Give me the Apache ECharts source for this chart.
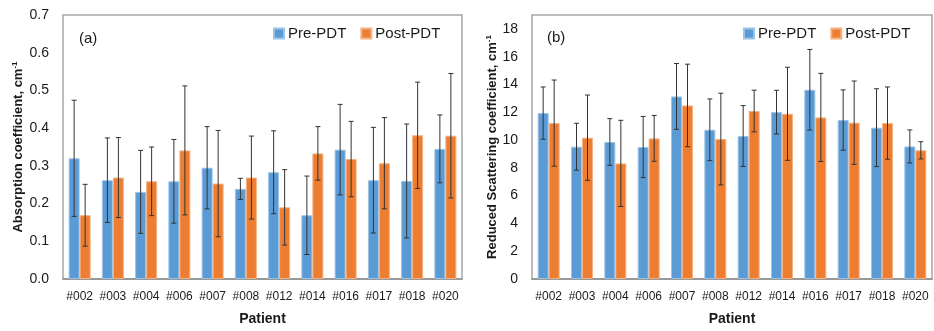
<!DOCTYPE html>
<html><head><meta charset="utf-8">
<script src="https://cdn.jsdelivr.net/npm/echarts@6/dist/echarts.min.js"></script>
<style>html,body{margin:0;padding:0;background:#fff}#c{width:934px;height:331px}</style>
</head><body><div id="c"></div>
<script>
const categories = ['#002','#003','#004','#006','#007','#008','#012','#014','#016','#017','#018','#020'];
const absPre     = [0.320, 0.262, 0.231, 0.259, 0.295, 0.239, 0.283, 0.169, 0.343, 0.262, 0.260, 0.345];
const absPreErr  = [0.154, 0.112, 0.110, 0.111, 0.109, 0.028, 0.110, 0.104, 0.120, 0.140, 0.151, 0.090];
const absPost    = [0.169, 0.269, 0.259, 0.341, 0.253, 0.269, 0.190, 0.333, 0.318, 0.307, 0.381, 0.380];
const absPostErr = [0.082, 0.106, 0.091, 0.171, 0.141, 0.110, 0.100, 0.071, 0.100, 0.121, 0.141, 0.165];
const scatPre     = [11.94, 9.52, 9.86, 9.50, 13.14, 10.74, 10.29, 12.01, 13.62, 11.44, 10.89, 9.54];
const scatPreErr  = [1.88, 1.69, 1.68, 2.20, 2.37, 2.22, 2.19, 1.57, 2.90, 2.17, 2.80, 1.19];
const scatPost    = [11.22, 10.17, 8.32, 10.12, 12.49, 10.07, 12.09, 11.89, 11.63, 11.25, 11.22, 9.26];
const scatPostErr = [3.10, 3.07, 3.10, 1.65, 2.97, 3.30, 1.50, 3.35, 3.17, 3.00, 2.60, 0.62];

const BLUE = '#5B9BD5', ORANGE = '#ED7D31';
const FONT = 'Liberation Sans';
const BW = 11;

function errSeries(name, vals, errs, xi, off) {
  return {
    type: 'custom', name: name + ' err', xAxisIndex: xi, yAxisIndex: xi, z: 10,
    silent: true,
    data: vals.map((v, i) => [i, v, errs[i]]),
    renderItem: function (params, api) {
      const i = api.value(0), v = api.value(1), e = api.value(2);
      const hi = api.coord([i, v + e]);
      const lo = api.coord([i, v - e]);
      const x = hi[0] + off;
      const st = { stroke: '#333', lineWidth: 1 };
      return { type: 'group', children: [
        { type: 'line', shape: { x1: x, y1: hi[1], x2: x, y2: lo[1] }, style: st },
        { type: 'line', shape: { x1: x - 2.5, y1: hi[1], x2: x + 2.5, y2: hi[1] }, style: st },
        { type: 'line', shape: { x1: x - 2.5, y1: lo[1], x2: x + 2.5, y2: lo[1] }, style: st }
      ]};
    }
  };
}
function bar(name, vals, color, border, xi) {
  return { type: 'bar', name: name, xAxisIndex: xi, yAxisIndex: xi, data: vals, barWidth: BW, barGap: '0%',
    itemStyle: { color: color, borderColor: border, borderWidth: 1 } };
}
function xAx(gi) {
  return { type: 'category', gridIndex: gi, data: categories,
    axisLine: { show: true, lineStyle: { color: '#8c8c8c', width: 1.5 } }, axisTick: { show: false },
    axisLabel: { color: '#1a1a1a', fontFamily: FONT, fontSize: 12, margin: 12, interval: 0 },
    name: 'Patient', nameLocation: 'middle', nameGap: 33,
    nameTextStyle: { fontFamily: FONT, fontSize: 14, fontWeight: 'bold', color: '#1a1a1a' } };
}
function rich() {
  return { a: { fontFamily: FONT, fontSize: 13, fontWeight: 'bold', color: '#1a1a1a' },
           s: { fontFamily: FONT, fontSize: 8, fontWeight: 'bold', color: '#1a1a1a', padding: [0, 0, 7, 0] } };
}
const option = {
  backgroundColor: '#fff',
  animation: false,
  title: [
    { text: '(a)', left: 74, top: 26, textStyle: { fontFamily: FONT, fontSize: 15, fontWeight: 'normal', color: '#1a1a1a' } },
    { text: '(b)', left: 542, top: 25, textStyle: { fontFamily: FONT, fontSize: 15, fontWeight: 'normal', color: '#1a1a1a' } }
  ],
  legend: [
    { left: 268, top: 21, itemWidth: 10, itemHeight: 10, itemGap: 14, icon: 'rect', data: ['Pre-PDT', 'Post-PDT'],
      textStyle: { fontFamily: FONT, fontSize: 15, color: '#1a1a1a', padding: [0, 0, 0, -1] } },
    { left: 738, top: 21, itemWidth: 10, itemHeight: 10, itemGap: 14, icon: 'rect', data: ['Pre-PDT', 'Post-PDT'],
      textStyle: { fontFamily: FONT, fontSize: 15, color: '#1a1a1a', padding: [0, 0, 0, -1] } }
  ],
  grid: [
    { left: 63, top: 15, width: 399, height: 264, show: true, borderColor: '#a6a6a6', borderWidth: 1.5, containLabel: false },
    { left: 532, top: 15, width: 400, height: 264, show: true, borderColor: '#a6a6a6', borderWidth: 1.5, containLabel: false }
  ],
  xAxis: [xAx(0), xAx(1)],
  yAxis: [
    { type: 'value', gridIndex: 0, min: 0, max: 0.7, interval: 0.1,
      axisLine: { show: false }, axisTick: { show: false }, splitLine: { show: false },
      axisLabel: { color: '#1a1a1a', fontFamily: FONT, fontSize: 14, margin: 14, formatter: v => v.toFixed(1) },
      name: '{a|Absorption coefficient, cm}{s|-1}', nameLocation: 'middle', nameGap: 37, nameTextStyle: { rich: rich() } },
    { type: 'value', gridIndex: 1, min: 0, max: 19, interval: 2,
      axisLine: { show: false }, axisTick: { show: false }, splitLine: { show: false },
      axisLabel: { color: '#1a1a1a', fontFamily: FONT, fontSize: 14, margin: 14, showMaxLabel: false },
      name: '{a|Reduced Scattering coefficient, cm}{s|-1}', nameLocation: 'middle', nameGap: 31, nameTextStyle: { rich: rich() } }
  ],
  series: [
    bar('Pre-PDT', absPre, BLUE, '#9cc3e8', 0),
    bar('Post-PDT', absPost, ORANGE, '#f4b183', 0),
    errSeries('Pre-PDT', absPre, absPreErr, 0, -BW / 2),
    errSeries('Post-PDT', absPost, absPostErr, 0, BW / 2),
    bar('Pre-PDT', scatPre, BLUE, '#9cc3e8', 1),
    bar('Post-PDT', scatPost, ORANGE, '#f4b183', 1),
    errSeries('Pre-PDT', scatPre, scatPreErr, 1, -BW / 2),
    errSeries('Post-PDT', scatPost, scatPostErr, 1, BW / 2)
  ]
};
const chart = echarts.init(document.getElementById('c'), null, { renderer: 'canvas' });
chart.setOption(option);
</script>
</body></html>
